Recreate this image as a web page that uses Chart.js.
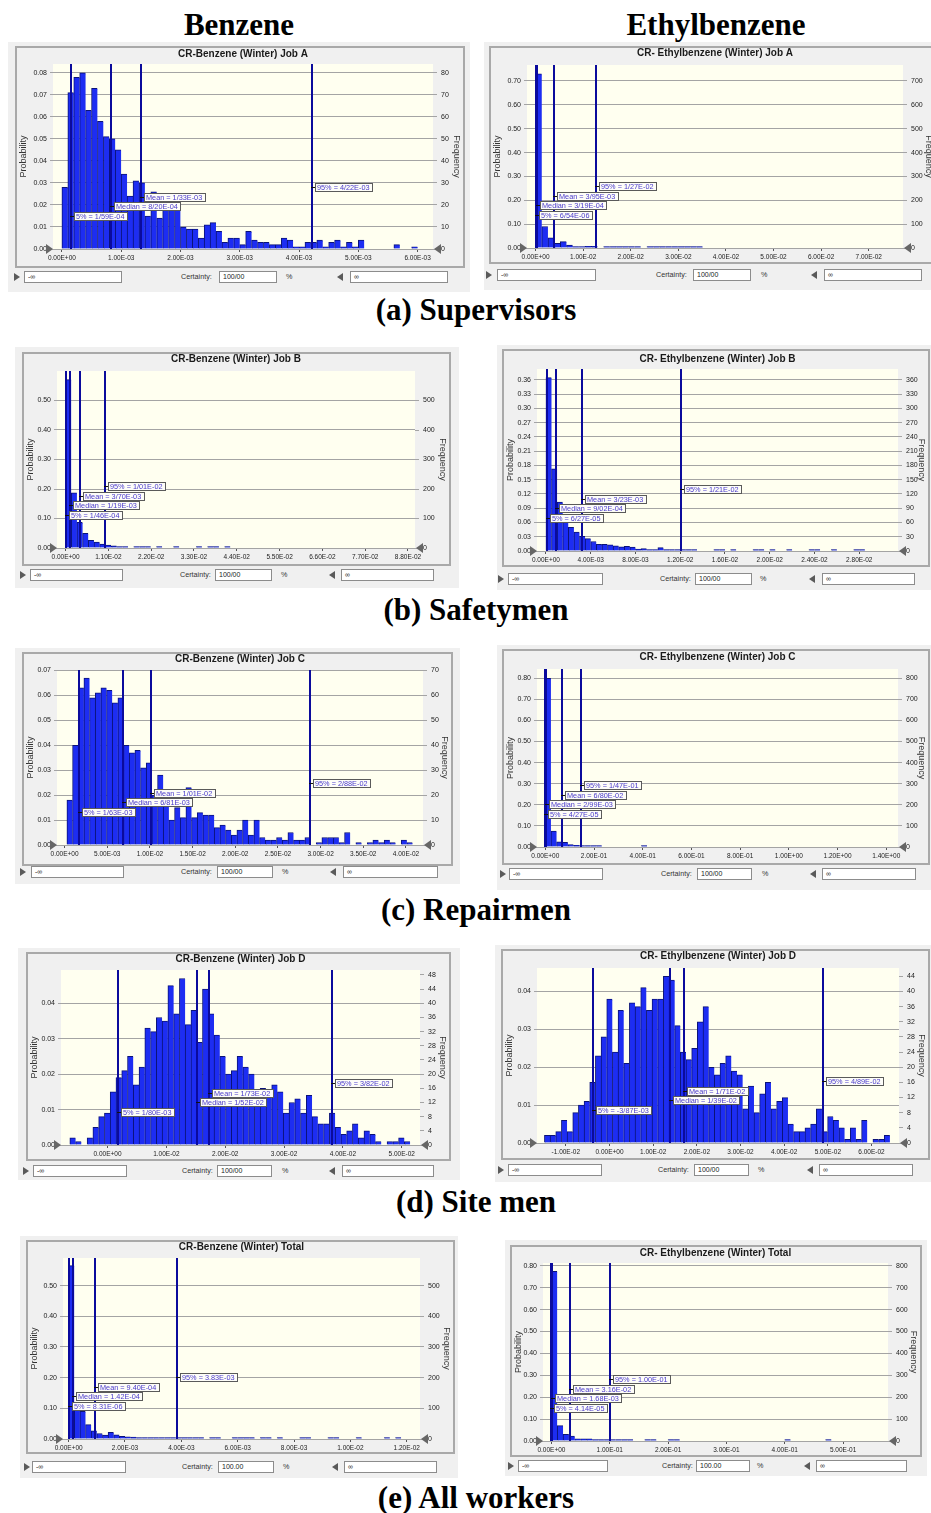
<!DOCTYPE html>
<html>
<head>
<meta charset="utf-8">
<script src="https://cdn.jsdelivr.net/npm/chart.js"></script>
<style>
  body { margin: 0; width: 931px; height: 1513px; background: #fff; position: relative; overflow: hidden;
         font-family: 'Liberation Sans', Arial, sans-serif; }
  .head { position: absolute; font: bold 31px 'Liberation Serif', 'Times New Roman', serif; line-height: 31px;
          color: #000; white-space: nowrap; transform: translateX(-50%); }
  .panel { position: absolute; background: #f0f0f0; }
  .frame { position: absolute; border: 2px solid #a9a9a9; box-sizing: border-box; }
  .frame canvas { position: absolute; left: 0; top: 0; }
  .box { position: absolute; height: 12px; box-sizing: border-box; background: #fff; border: 1px solid #8c8c8c;
         font-size: 7px; line-height: 10px; padding-left: 3px; color: #222; white-space: nowrap; }
  .txt { position: absolute; font-size: 7.2px; line-height: 12px; height: 12px; color: #333; white-space: nowrap; }
  .tri { position: absolute; width: 0; height: 0; border-top: 4px solid transparent; border-bottom: 4px solid transparent; }
  .tri.r { border-left: 6px solid #5a5a5a; }
  .tri.l { border-right: 6px solid #5a5a5a; }
</style>
</head>
<body>
<div class="head" style="left:239px;top:9px">Benzene</div>
<div class="head" style="left:716px;top:9px">Ethylbenzene</div>
<div class="head" style="left:476px;top:294px">(a) Supervisors</div>
<div class="head" style="left:476px;top:594px">(b) Safetymen</div>
<div class="head" style="left:476px;top:894px">(c) Repairmen</div>
<div class="head" style="left:476px;top:1186px">(d) Site men</div>
<div class="head" style="left:476px;top:1482px">(e) All workers</div>

<script>
// ---- data (probability per bin) ----
const statNames = ['5%', 'Median', 'Mean', '95%'];

// (a) Supervisors
const aBenBin = [0, 1e-4];
const aBenValues = [0.028, 0.071, 0.078, 0.080, 0.063, 0.073, 0.058, 0.051, 0.050, 0.045, 0.034, 0.024, 0.031, 0.030,
  0.015, 0.026, 0.014, 0.020, 0.025, 0.019, 0.010, 0.009, 0.009, 0.005, 0.011, 0.012, 0.008, 0.003, 0.005, 0.005,
  0.002, 0.008, 0.004, 0.003, 0.003, 0.002, 0.002, 0.005, 0.004, 0.001, 0.001, 0.003, 0.003, 0.004, 0.001, 0.003,
  0.004, 0.001, 0.003, 0.001, 0.004, 0, 0, 0, 0, 0, 0.002, 0, 0, 0.001];
const aBenStats = [1.59e-4, 8.20e-4, 1.33e-3, 4.22e-3];
const aBenXTicks = [0, 0.001, 0.002, 0.003, 0.004, 0.005, 0.006];
const aBenYTicks = [0, 0.01, 0.02, 0.03, 0.04, 0.05, 0.06, 0.07, 0.08];
const aBenFreqTicks = [0, 10, 20, 30, 40, 50, 60, 70, 80];

const aEthBin = [0, 1.3e-3];
const aEthValues = [0.73, 0.09, 0.043, 0.02, 0.027, 0.012, 0.005, 0.005, 0.007, 0.007, 0, 0.001, 0.003, 0.003,
  0.005, 0.003, 0.002, 0, 0.003, 0.004, 0.006, 0.003, 0.001, 0.003, 0.003, 0.002, 0.002];
const aEthStats = [6.54e-6, 3.19e-4, 3.95e-3, 1.27e-2];
const aEthXTicks = [0, 0.01, 0.02, 0.03, 0.04, 0.05, 0.06, 0.07];
const aEthYTicks = [0, 0.1, 0.2, 0.3, 0.4, 0.5, 0.6, 0.7];
const aEthFreqTicks = [0, 100, 200, 300, 400, 500, 600, 700];

// (b) Safetymen
const bBenBin = [0, 1.46e-3];
const bBenValues = [0.571, 0.187, 0.087, 0.05, 0.026, 0.02, 0.013, 0.01, 0.007, 0.004, 0.002, 0, 0.003, 0.003,
  0.001, 0, 0.001, 0, 0, 0.001, 0, 0, 0, 0.003, 0, 0.001, 0.001, 0, 0.001];
const bBenStats = [1.46e-4, 1.19e-3, 3.70e-3, 1.01e-2];
const bBenXTicks = [0, 0.011, 0.022, 0.033, 0.044, 0.055, 0.066, 0.077, 0.088];
const bBenYTicks = [0, 0.1, 0.2, 0.3, 0.4, 0.5];
const bBenFreqTicks = [0, 100, 200, 300, 400, 500];

const bEthBin = [0, 5e-4];
const bEthValues = [0.365, 0.173, 0.103, 0.066, 0.050, 0.040, 0.031, 0.026, 0.020, 0.014, 0.014, 0.013, 0.011,
  0.009, 0.010, 0.008, 0.004, 0.005, 0.002, 0.002, 0.007, 0.002, 0.002, 0.001, 0.001, 0.001, 0.001, 0, 0, 0,
  0.001, 0.001, 0, 0.002, 0, 0, 0, 0.001, 0.002, 0, 0.002, 0, 0, 0.002, 0, 0, 0, 0.001, 0.002, 0, 0, 0.001,
  0, 0, 0, 0.001, 0.002];
const bEthStats = [6.27e-5, 9.02e-4, 3.23e-3, 1.21e-2];
const bEthXTicks = [0, 0.004, 0.008, 0.012, 0.016, 0.020, 0.024, 0.028];
const bEthYTicks = [0, 0.03, 0.06, 0.09, 0.12, 0.15, 0.18, 0.21, 0.24, 0.27, 0.30, 0.33, 0.36];
const bEthFreqTicks = [0, 30, 60, 90, 120, 150, 180, 210, 240, 270, 300, 330, 360];

// (c) Repairmen
const cBenBin = [2.7e-4, 6.64e-4];
const cBenValues = [0.018, 0.040, 0.063, 0.067, 0.059, 0.061, 0.063, 0.062, 0.057, 0.059, 0.040, 0.037, 0.038,
  0.031, 0.033, 0.020, 0.028, 0.020, 0.010, 0.015, 0.011, 0.023, 0.011, 0.013, 0.012, 0.012, 0.007, 0.008, 0.006,
  0.004, 0.006, 0.010, 0.004, 0.010, 0.003, 0.002, 0.002, 0.003, 0.002, 0.005, 0.002, 0.002, 0.003, 0, 0.001,
  0.003, 0.003, 0.003, 0.001, 0.005, 0, 0.001, 0, 0.001, 0.002, 0.001, 0.002, 0.001, 0, 0.002, 0.001];
const cBenStats = [1.63e-3, 6.81e-3, 1.01e-2, 2.88e-2];
const cBenXTicks = [0, 0.005, 0.010, 0.015, 0.020, 0.025, 0.030, 0.035, 0.040];
const cBenYTicks = [0, 0.01, 0.02, 0.03, 0.04, 0.05, 0.06, 0.07];
const cBenFreqTicks = [0, 10, 20, 30, 40, 50, 60, 70];

const cEthBin = [0, 0.0232];
const cEthValues = [0.80, 0.076, 0.025, 0.022, 0.012, 0.008, 0.006, 0.003, 0.002, 0.001, 0, 0, 0, 0, 0, 0, 0, 0.003];
const cEthStats = [4.27e-5, 2.99e-3, 6.80e-2, 1.47e-1];
const cEthXTicks = [0, 0.2, 0.4, 0.6, 0.8, 1.0, 1.2, 1.4];
const cEthYTicks = [0, 0.1, 0.2, 0.3, 0.4, 0.5, 0.6, 0.7, 0.8];
const cEthFreqTicks = [0, 100, 200, 300, 400, 500, 600, 700, 800];

// (d) Site men
const dBenBin = [-6.4e-3, 0.98e-3];
const dBenValues = [0.002, 0.001, 0, 0.002, 0.005, 0.008, 0.009, 0.015, 0.019, 0.021, 0.025, 0.017, 0.022, 0.033,
  0.032, 0.036, 0.035, 0.045, 0.037, 0.047, 0.034, 0.038, 0.029, 0.044, 0.037, 0.031, 0.025, 0.020, 0.021, 0.025,
  0.022, 0.020, 0.015, 0.016, 0.015, 0.017, 0.015, 0.009, 0.012, 0.013, 0.009, 0.014, 0.008, 0.006, 0.006, 0.009,
  0.005, 0.003, 0.004, 0.006, 0.002, 0.004, 0.003, 0.001, 0, 0.001, 0.001, 0.002, 0.001];
const dBenStats = [1.80e-3, 1.52e-2, 1.73e-2, 3.82e-2];
const dBenXTicks = [0, 0.01, 0.02, 0.03, 0.04, 0.05];
const dBenYTicks = [0, 0.01, 0.02, 0.03, 0.04];
const dBenFreqTicks = [0, 4, 8, 12, 16, 20, 24, 28, 32, 36, 40, 44, 48];

const dEthBin = [-1.49e-2, 1.297e-3];
const dEthValues = [0.002, 0.002, 0.003, 0.006, 0.003, 0.008, 0.010, 0.011, 0.016, 0.023, 0.028, 0.038, 0.024,
  0.035, 0.021, 0.037, 0.036, 0.041, 0.035, 0.038, 0.038, 0.044, 0.043, 0.031, 0.024, 0.022, 0.025, 0.032, 0.036,
  0.020, 0.018, 0.021, 0.023, 0.019, 0.018, 0.009, 0.015, 0.008, 0.013, 0.016, 0.009, 0.011, 0.012, 0.005, 0.003,
  0.003, 0.004, 0.005, 0.009, 0.003, 0.007, 0.006, 0.004, 0.001, 0.004, 0.001, 0.006, 0, 0.001, 0.001, 0.002];
const dEthStats = [-3.87e-3, 1.39e-2, 1.71e-2, 4.89e-2];
const dEthXTicks = [-0.01, 0, 0.01, 0.02, 0.03, 0.04, 0.05, 0.06];
const dEthYTicks = [0, 0.01, 0.02, 0.03, 0.04];
const dEthFreqTicks = [0, 4, 8, 12, 16, 20, 24, 28, 32, 36, 40, 44];

// (e) All workers
const eBenBin = [0, 2e-4];
const eBenValues = [0.565, 0.095, 0.090, 0.047, 0.027, 0.018, 0.013, 0.022, 0.014, 0.009, 0.007, 0.006, 0.004,
  0.004, 0.002, 0.003, 0.001, 0.005, 0.005, 0.005, 0.001, 0.003, 0.001, 0.003, 0, 0.003, 0.003, 0, 0, 0.002,
  0.003, 0.002, 0.004, 0, 0.002, 0.003, 0, 0.003, 0, 0, 0, 0.003, 0.003, 0, 0, 0, 0.003, 0.002, 0, 0, 0, 0.003,
  0, 0, 0, 0, 0.002, 0, 0.003];
const eBenStats = [8.31e-6, 1.42e-4, 9.40e-4, 3.83e-3];
const eBenXTicks = [0, 0.002, 0.004, 0.006, 0.008, 0.010, 0.012];
const eBenYTicks = [0, 0.1, 0.2, 0.3, 0.4, 0.5];
const eBenFreqTicks = [0, 100, 200, 300, 400, 500];

const eEthBin = [0, 0.01];
const eEthValues = [0.775, 0.070, 0.030, 0.022, 0.010, 0.010, 0.010, 0.003, 0.004, 0.004, 0.004, 0.002, 0.002,
  0.002, 0, 0, 0.002, 0.002, 0, 0, 0.003, 0.002, 0, 0, 0, 0, 0, 0, 0, 0, 0, 0, 0, 0, 0, 0, 0, 0, 0, 0, 0.002,
  0, 0, 0, 0, 0, 0, 0.002];
const eEthStats = [4.14e-5, 1.68e-3, 3.16e-2, 1.00e-1];
const eEthXTicks = [0, 0.1, 0.2, 0.3, 0.4, 0.5];
const eEthYTicks = [0, 0.1, 0.2, 0.3, 0.4, 0.5, 0.6, 0.7, 0.8];
const eEthFreqTicks = [0, 100, 200, 300, 400, 500, 600, 700, 800];

// ---- panels: data + axis ranges + page layout ----
const panels = [
  { title: 'CR-Benzene (Winter) Job A', bin: aBenBin, values: aBenValues, stats: aBenStats,
    xTicks: aBenXTicks, yTicks: aBenYTicks, freqTicks: aBenFreqTicks, xMin: -0.00015, xMax: 0.00626, yMax: 0.084,
    sep: '/', cert: '100/00',
    outer: [8, 42, 470, 292], frame: [15, 46, 465, 268], plot: [53, 64, 433, 249], titleY: 54,
    ctrl: { y: 277, t1: 16, in1: [24, 122], cert: 181, in2: [219, 277], pct: 286, t2: 340, in3: [350, 448] } },
  { title: 'CR- Ethylbenzene (Winter) Job A', bin: aEthBin, values: aEthValues, stats: aEthStats,
    xTicks: aEthXTicks, yTicks: aEthYTicks, freqTicks: aEthFreqTicks, xMin: -0.0018, xMax: 0.0772, yMax: 0.767,
    sep: '/', cert: '100/00',
    outer: [484, 42, 935, 290], frame: [489, 46, 937, 264], plot: [527, 65, 903, 248], titleY: 53,
    ctrl: { y: 275, t1: 488, in1: [497, 596], cert: 656, in2: [693, 751], pct: 761, t2: 814, in3: [824, 922] } },
  { title: 'CR-Benzene (Winter) Job B', bin: bBenBin, values: bBenValues, stats: bBenStats,
    xTicks: bBenXTicks, yTicks: bBenYTicks, freqTicks: bBenFreqTicks, xMin: -0.0022, xMax: 0.0898, yMax: 0.60,
    sep: '/', cert: '100/00',
    outer: [15, 347, 459, 588], frame: [22, 352, 451, 566], plot: [57, 371, 415, 548], titleY: 359,
    ctrl: { y: 575, t1: 22, in1: [30, 123], cert: 180, in2: [215, 272], pct: 281, t2: 332, in3: [341, 434] } },
  { title: 'CR- Ethylbenzene (Winter) Job B', bin: bEthBin, values: bEthValues, stats: bEthStats,
    xTicks: bEthXTicks, yTicks: bEthYTicks, freqTicks: bEthFreqTicks, xMin: -0.0008, xMax: 0.03146, yMax: 0.383,
    sep: '/', cert: '100/00',
    outer: [497, 345, 935, 590], frame: [502, 349, 930, 567], plot: [537, 369, 898, 551], titleY: 359,
    ctrl: { y: 579, t1: 500, in1: [508, 603], cert: 660, in2: [695, 752], pct: 760, t2: 812, in3: [822, 915] } },
  { title: 'CR-Benzene (Winter) Job C', bin: cBenBin, values: cBenValues, stats: cBenStats,
    xTicks: cBenXTicks, yTicks: cBenYTicks, freqTicks: cBenFreqTicks, xMin: -0.00089, xMax: 0.042, yMax: 0.0702,
    sep: '/', cert: '100/00',
    outer: [15, 648, 460, 884], frame: [22, 652, 453, 866], plot: [57, 670, 423, 845], titleY: 659,
    ctrl: { y: 872, t1: 22, in1: [31, 124], cert: 181, in2: [217, 273], pct: 282, t2: 333, in3: [343, 438] } },
  { title: 'CR- Ethylbenzene (Winter) Job C', bin: cEthBin, values: cEthValues, stats: cEthStats,
    xTicks: cEthXTicks, yTicks: cEthYTicks, freqTicks: cEthFreqTicks, xMin: -0.034, xMax: 1.448, yMax: 0.844,
    sep: '/', cert: '100/00',
    outer: [497, 645, 935, 890], frame: [502, 649, 930, 865], plot: [537, 669, 898, 847], titleY: 657,
    ctrl: { y: 874, t1: 502, in1: [509, 603], cert: 661, in2: [697, 752], pct: 762, t2: 813, in3: [822, 916] } },
  { title: 'CR-Benzene (Winter) Job D', bin: dBenBin, values: dBenValues, stats: dBenStats,
    xTicks: dBenXTicks, yTicks: dBenYTicks, freqTicks: dBenFreqTicks, xMin: -0.0079, xMax: 0.0531, yMax: 0.0494,
    sep: '/', cert: '100/00',
    outer: [18, 948, 460, 1180], frame: [26, 952, 451, 1161], plot: [61, 970, 420, 1145], titleY: 959,
    ctrl: { y: 1171, t1: 25, in1: [33, 127], cert: 182, in2: [217, 272], pct: 282, t2: 332, in3: [342, 434] } },
  { title: 'CR- Ethylbenzene (Winter) Job D', bin: dEthBin, values: dEthValues, stats: dEthStats,
    xTicks: dEthXTicks, yTicks: dEthYTicks, freqTicks: dEthFreqTicks, xMin: -0.0166, xMax: 0.0663, yMax: 0.0462,
    sep: '/', cert: '100/00',
    outer: [495, 945, 935, 1182], frame: [501, 949, 930, 1160], plot: [537, 968, 899, 1143], titleY: 956,
    ctrl: { y: 1170, t1: 500, in1: [508, 602], cert: 658, in2: [694, 749], pct: 758, t2: 810, in3: [819, 913] } },
  { title: 'CR-Benzene (Winter) Total', bin: eBenBin, values: eBenValues, stats: eBenStats,
    xTicks: eBenXTicks, yTicks: eBenYTicks, freqTicks: eBenFreqTicks, xMin: -0.0002, xMax: 0.01247, yMax: 0.59,
    sep: '.', cert: '100.00',
    outer: [20, 1236, 458, 1478], frame: [26, 1240, 455, 1454], plot: [63, 1258, 420, 1439], titleY: 1247,
    ctrl: { y: 1467, t1: 26, in1: [32, 126], cert: 182, in2: [218, 274], pct: 283, t2: 335, in3: [344, 437] } },
  { title: 'CR- Ethylbenzene (Winter) Total', bin: eEthBin, values: eEthValues, stats: eEthStats,
    xTicks: eEthXTicks, yTicks: eEthYTicks, freqTicks: eEthFreqTicks, xMin: -0.0144, xMax: 0.577, yMax: 0.813,
    sep: '.', cert: '100.00',
    outer: [505, 1240, 927, 1476], frame: [510, 1245, 922, 1457], plot: [543, 1263, 888, 1441], titleY: 1253,
    ctrl: { y: 1466, t1: 510, in1: [518, 608], cert: 662, in2: [696, 750], pct: 757, t2: 807, in3: [816, 907] } }
];

// Crystal Ball style number: 1.23E-04
function sci(v) {
  if (Math.abs(v) < 1e-15) return '0.00E+00';
  let e = Math.floor(Math.log10(Math.abs(v)) + 1e-9);
  let m = v / Math.pow(10, e);
  if (Math.abs(m) >= 9.995) { m /= 10; e += 1; }
  return m.toFixed(2) + 'E' + (e < 0 ? '-' : '+') + String(Math.abs(e)).padStart(2, '0');
}

const SANS = "'Liberation Sans', Arial, sans-serif";
const NARROW = "'Liberation Sans Narrow', 'Arial Narrow', 'Liberation Sans', Arial, sans-serif";

const crystalPlugin = {
  id: 'crystal',
  beforeDraw(chart) {
    const { ctx, chartArea: a } = chart;
    ctx.save();
    ctx.fillStyle = '#fffff0';
    ctx.fillRect(a.left, a.top, a.right - a.left, a.bottom - a.top);
    ctx.restore();
  },
  afterDatasetsDraw(chart, args, o) {
    const { ctx, chartArea: a, scales: { x } } = chart;
    ctx.save();
    ctx.strokeStyle = '#0b0b9c';
    ctx.lineWidth = 2;
    o.stats.forEach(v => {
      const px = Math.round(x.getPixelForValue(v));
      ctx.beginPath();
      ctx.moveTo(px, a.top);
      ctx.lineTo(px, a.bottom);
      ctx.stroke();
    });
    ctx.font = '7.3px ' + SANS;
    ctx.textBaseline = 'middle';
    ctx.textAlign = 'left';
    o.stats.forEach((v, i) => {
      const px = Math.round(x.getPixelForValue(v));
      const cy = Math.round(a.bottom - 33 - i * 9.6);
      const text = statNames[i] + ' = ' + sci(v).replace('.', o.sep);
      const w = Math.ceil(ctx.measureText(text).width) + 4;
      const bx = px + 3;
      ctx.fillStyle = '#fdfdf8';
      ctx.fillRect(bx, cy - 4, w, 8);
      ctx.strokeStyle = '#5a5a5a';
      ctx.lineWidth = 1;
      ctx.strokeRect(bx + 0.5, cy - 3.5, w, 8);
      ctx.fillStyle = '#111';
      ctx.fillRect(px - 1, cy, 4, 1);
      ctx.fillStyle = '#4a3acb';
      ctx.fillText(text, bx + 2, cy + 0.5);
    });
    ctx.restore();
  },
  afterDraw(chart, args, o) {
    const { ctx, chartArea: a } = chart;
    ctx.save();
    ctx.fillStyle = '#666';
    ctx.beginPath();
    ctx.moveTo(a.left - 7, a.bottom - 5);
    ctx.lineTo(a.left, a.bottom);
    ctx.lineTo(a.left - 7, a.bottom + 5);
    ctx.closePath();
    ctx.fill();
    ctx.beginPath();
    ctx.moveTo(a.right + 8, a.bottom - 5);
    ctx.lineTo(a.right + 1, a.bottom);
    ctx.lineTo(a.right + 8, a.bottom + 5);
    ctx.closePath();
    ctx.fill();
    ctx.font = 'bold 10px ' + SANS;
    ctx.fillStyle = '#1a1a1a';
    ctx.textAlign = 'center';
    ctx.textBaseline = 'middle';
    ctx.fillText(o.title, (a.left + a.right) / 2, o.titleY);
    ctx.restore();
  }
};

function addEl(cls, left, top, width, text) {
  const d = document.createElement('div');
  d.className = cls;
  d.style.left = left + 'px';
  d.style.top = top + 'px';
  if (width != null) d.style.width = width + 'px';
  if (text != null) d.textContent = text;
  document.body.appendChild(d);
  return d;
}

panels.forEach(p => {
  const [ox1, oy1, ox2, oy2] = p.outer;
  const bg = addEl('panel', ox1, oy1, ox2 - ox1);
  bg.style.height = (oy2 - oy1) + 'px';

  const [fx1, fy1, fx2, fy2] = p.frame;
  const fr = addEl('frame', fx1, fy1, fx2 - fx1);
  fr.style.height = (fy2 - fy1) + 'px';
  const cx = fx1 + 2, cy = fy1 + 2, cw = fx2 - fx1 - 4, ch = fy2 - fy1 - 4;
  const canvas = document.createElement('canvas');
  canvas.width = cw;
  canvas.height = ch;
  canvas.style.width = cw + 'px';
  canvas.style.height = ch + 'px';
  fr.appendChild(canvas);

  const padL = p.plot[0] - cx;
  const padT = p.plot[1] - cy;
  const padR = (cx + cw) - p.plot[2];
  const padB = (cy + ch) - p.plot[3];

  new Chart(canvas.getContext('2d'), {
    type: 'bar',
    data: {
      datasets: [{
        data: p.values.map((v, i) => ({ x: p.bin[0] + (i + 0.5) * p.bin[1], y: v === 0 ? null : v })),
        backgroundColor: '#1d2df2',
        borderColor: '#0b1378',
        borderWidth: { left: 1, top: 1, right: 0, bottom: 0 },
        barPercentage: 1,
        categoryPercentage: 1,
        minBarLength: 1.5
      }]
    },
    options: {
      responsive: false,
      animation: false,
      events: [],
      layout: { padding: { top: padT, left: 0, right: 0, bottom: 0 } },
      plugins: {
        legend: { display: false },
        tooltip: { enabled: false },
        crystal: { title: p.title, titleY: p.titleY - cy, stats: p.stats, sep: p.sep }
      },
      scales: {
        x: {
          type: 'linear', min: p.xMin, max: p.xMax, offset: false,
          afterBuildTicks: s => { s.ticks = p.xTicks.map(v => ({ value: v })); },
          afterFit: s => { s.height = padB; },
          ticks: { callback: v => sci(v), font: { family: NARROW, size: 6.5 }, color: '#222', padding: 2,
                   autoSkip: false, minRotation: 0, maxRotation: 0 },
          grid: { offset: false, drawOnChartArea: false, drawTicks: true, tickLength: 3, color: '#555' },
          border: { display: false }
        },
        y: {
          position: 'left', min: 0, max: p.yMax,
          afterBuildTicks: s => { s.ticks = p.yTicks.map(v => ({ value: v })); },
          afterFit: s => { s.width = padL; },
          ticks: { callback: v => v.toFixed(2), font: { family: SANS, size: 7 }, color: '#222', padding: 3, autoSkip: false },
          grid: { color: '#a4a4a4', lineWidth: 1, tickLength: 3 },
          border: { display: false },
          title: { display: true, text: 'Probability', font: { family: SANS, size: 9 }, color: '#333',
                   padding: { top: 1, bottom: 0 } }
        },
        y2: {
          position: 'right', min: 0, max: p.yMax * 1000,
          afterBuildTicks: s => { s.ticks = p.freqTicks.map(v => ({ value: v })); },
          afterFit: s => { s.width = padR; },
          ticks: { callback: v => String(Math.round(v)), font: { family: SANS, size: 7 }, color: '#222', padding: 4, autoSkip: false },
          grid: { drawOnChartArea: false, tickLength: 4, color: '#a4a4a4' },
          border: { display: false },
          title: { display: true, text: 'Frequency', font: { family: SANS, size: 9 }, color: '#333',
                   padding: { top: 1.5, bottom: 0 } }
        }
      }
    },
    plugins: [crystalPlugin]
  });

  // certainty row under the chart
  const c = p.ctrl;
  addEl('tri r', c.t1 - 2, c.y - 4);
  addEl('box', c.in1[0], c.y - 6, c.in1[1] - c.in1[0], '-∞');
  addEl('txt', c.cert, c.y - 6, null, 'Certainty:');
  addEl('box', c.in2[0], c.y - 6, c.in2[1] - c.in2[0], p.cert);
  addEl('txt', c.pct, c.y - 6, null, '%');
  addEl('tri l', c.t2 - 3, c.y - 4);
  addEl('box', c.in3[0], c.y - 6, c.in3[1] - c.in3[0], '∞');
});
</script>
</body>
</html>
